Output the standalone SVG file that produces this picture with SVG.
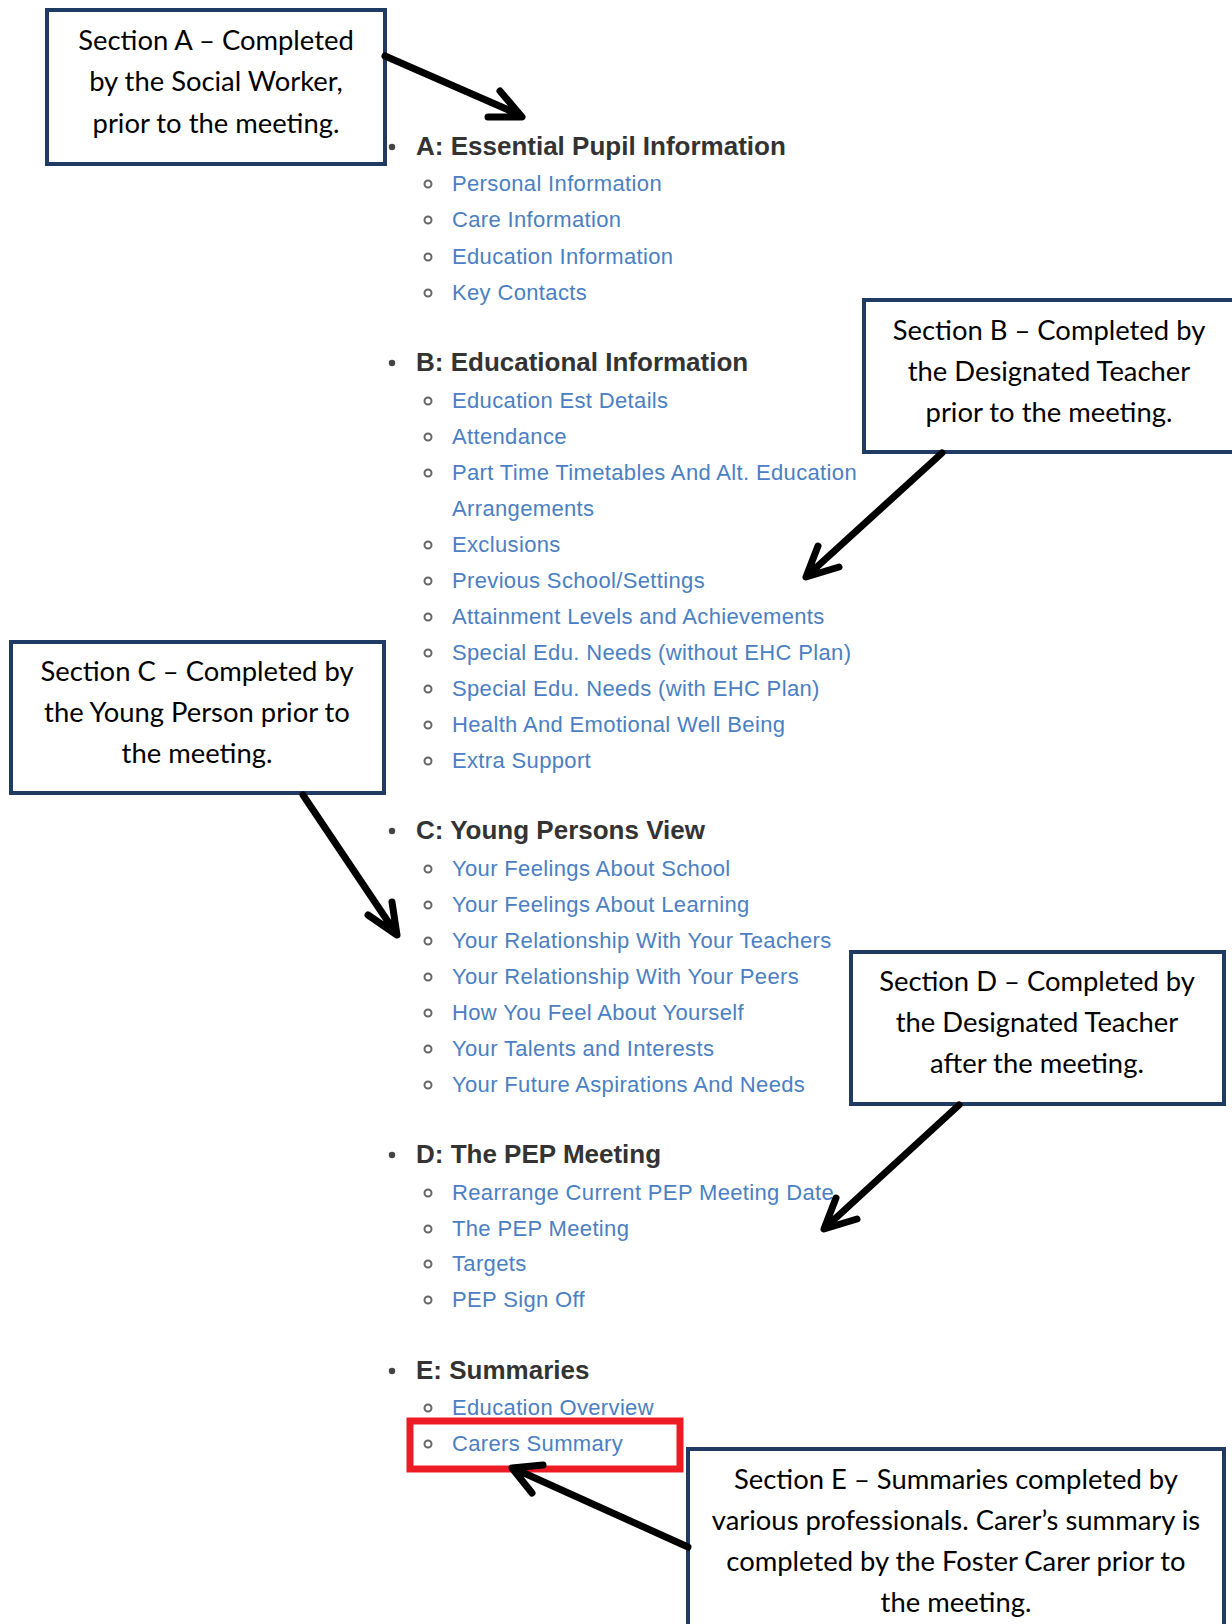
<svg xmlns="http://www.w3.org/2000/svg" width="1232" height="1624" viewBox="0 0 1232 1624">
<style>
.box{fill:#fff;stroke:#1f3a63;stroke-width:4}
.bt{font-family:Lato,"Open Sans",sans-serif;font-size:27.4px;fill:#000;text-anchor:middle}
.h{font-family:"Liberation Sans",Arial,sans-serif;font-size:26px;font-weight:bold;fill:#333}
.it{font-family:"Liberation Sans",Arial,sans-serif;font-size:22px;letter-spacing:0.35px;fill:#4a80c2}
.dot{fill:#444}
.ring{fill:none;stroke:#666;stroke-width:2}
.arr{fill:none;stroke:#000;stroke-width:7;stroke-linecap:round;stroke-linejoin:round}
.red{fill:none;stroke:#ed1c24;stroke-width:7}
</style>
<rect width="1232" height="1624" fill="#fff"/>

<g id="list">
<g id="sectionA">
<circle class="dot" cx="392" cy="147" r="3.2"/>
<text class="h" x="416" y="155">A: Essential Pupil Information</text>
<circle class="ring" cx="428" cy="184" r="3.5"/><text class="it" x="452" y="191">Personal Information</text>
<circle class="ring" cx="428" cy="220" r="3.5"/><text class="it" x="452" y="227">Care Information</text>
<circle class="ring" cx="428" cy="257" r="3.5"/><text class="it" x="452" y="264">Education Information</text>
<circle class="ring" cx="428" cy="293" r="3.5"/><text class="it" x="452" y="300">Key Contacts</text>
</g>
<g id="sectionB">
<circle class="dot" cx="392" cy="363" r="3.2"/>
<text class="h" x="416" y="371">B: Educational Information</text>
<circle class="ring" cx="428" cy="401" r="3.5"/><text class="it" x="452" y="408">Education Est Details</text>
<circle class="ring" cx="428" cy="437" r="3.5"/><text class="it" x="452" y="444">Attendance</text>
<circle class="ring" cx="428" cy="473" r="3.5"/><text class="it" x="452" y="480">Part Time Timetables And Alt. Education</text>
<text class="it" x="452" y="516">Arrangements</text>
<circle class="ring" cx="428" cy="545" r="3.5"/><text class="it" x="452" y="552">Exclusions</text>
<circle class="ring" cx="428" cy="581" r="3.5"/><text class="it" x="452" y="588">Previous School/Settings</text>
<circle class="ring" cx="428" cy="617" r="3.5"/><text class="it" x="452" y="624">Attainment Levels and Achievements</text>
<circle class="ring" cx="428" cy="653" r="3.5"/><text class="it" x="452" y="660">Special Edu. Needs (without EHC Plan)</text>
<circle class="ring" cx="428" cy="689" r="3.5"/><text class="it" x="452" y="696">Special Edu. Needs (with EHC Plan)</text>
<circle class="ring" cx="428" cy="725" r="3.5"/><text class="it" x="452" y="732">Health And Emotional Well Being</text>
<circle class="ring" cx="428" cy="761" r="3.5"/><text class="it" x="452" y="768">Extra Support</text>
</g>
<g id="sectionC">
<circle class="dot" cx="392" cy="831" r="3.2"/>
<text class="h" x="416" y="839">C: Young Persons View</text>
<circle class="ring" cx="428" cy="869" r="3.5"/><text class="it" x="452" y="876">Your Feelings About School</text>
<circle class="ring" cx="428" cy="905" r="3.5"/><text class="it" x="452" y="912">Your Feelings About Learning</text>
<circle class="ring" cx="428" cy="941" r="3.5"/><text class="it" x="452" y="948">Your Relationship With Your Teachers</text>
<circle class="ring" cx="428" cy="977" r="3.5"/><text class="it" x="452" y="984">Your Relationship With Your Peers</text>
<circle class="ring" cx="428" cy="1013" r="3.5"/><text class="it" x="452" y="1020">How You Feel About Yourself</text>
<circle class="ring" cx="428" cy="1049" r="3.5"/><text class="it" x="452" y="1056">Your Talents and Interests</text>
<circle class="ring" cx="428" cy="1085" r="3.5"/><text class="it" x="452" y="1092">Your Future Aspirations And Needs</text>
</g>
<g id="sectionD">
<circle class="dot" cx="392" cy="1155" r="3.2"/>
<text class="h" x="416" y="1163">D: The PEP Meeting</text>
<circle class="ring" cx="428" cy="1193" r="3.5"/><text class="it" x="452" y="1200">Rearrange Current PEP Meeting Date</text>
<circle class="ring" cx="428" cy="1229" r="3.5"/><text class="it" x="452" y="1236">The PEP Meeting</text>
<circle class="ring" cx="428" cy="1264" r="3.5"/><text class="it" x="452" y="1271">Targets</text>
<circle class="ring" cx="428" cy="1300" r="3.5"/><text class="it" x="452" y="1307">PEP Sign Off</text>
</g>
<g id="sectionE">
<circle class="dot" cx="392" cy="1371" r="3.2"/>
<text class="h" x="416" y="1379">E: Summaries</text>
<circle class="ring" cx="428" cy="1408" r="3.5"/><text class="it" x="452" y="1415">Education Overview</text>
<circle class="ring" cx="428" cy="1444" r="3.5"/><text class="it" x="452" y="1451">Carers Summary</text>
</g>
</g>

<g id="highlight">
<rect class="red" x="410" y="1421" width="270" height="48"/>
</g>

<g id="boxA">
<rect class="box" x="47" y="10" width="338" height="154"/>
<text class="bt" x="216" y="50">Section A – Completed</text>
<text class="bt" x="216" y="91">by the Social Worker,</text>
<text class="bt" x="216" y="133">prior to the meeting.</text>
</g>
<g id="boxB">
<rect class="box" x="864" y="300" width="380" height="152"/>
<text class="bt" x="1049" y="340">Section B – Completed by</text>
<text class="bt" x="1049" y="381">the Designated Teacher</text>
<text class="bt" x="1049" y="422">prior to the meeting.</text>
</g>
<g id="boxC">
<rect class="box" x="11" y="642" width="373" height="151"/>
<text class="bt" x="197" y="681">Section C – Completed by</text>
<text class="bt" x="197" y="722">the Young Person prior to</text>
<text class="bt" x="197" y="763">the meeting.</text>
</g>
<g id="boxD">
<rect class="box" x="851" y="952" width="373" height="152"/>
<text class="bt" x="1037" y="991">Section D – Completed by</text>
<text class="bt" x="1037" y="1032">the Designated Teacher</text>
<text class="bt" x="1037" y="1073">after the meeting.</text>
</g>
<g id="boxE">
<rect class="box" x="688" y="1449" width="536" height="200"/>
<text class="bt" x="956" y="1489">Section E – Summaries completed by</text>
<text class="bt" x="956" y="1530">various professionals. Carer’s summary is</text>
<text class="bt" x="956" y="1571">completed by the Foster Carer prior to</text>
<text class="bt" x="956" y="1612">the meeting.</text>
</g>

<g id="connectors">
<path class="arr" d="M385,56 L520,115 M500,91 L522,117 L488,117"/>
<path class="arr" d="M942,453 L808,575 M818,546 L806,577 L839,567"/>
<path class="arr" d="M303,795 L395,932 M392,902 L397,935 L368,915"/>
<path class="arr" d="M959,1105 L826,1227 M836,1198 L824,1229 L857,1219"/>
<path class="arr" d="M688,1547 L515,1469 M543,1465 L512,1468 L532,1493"/>
</g>
</svg>
